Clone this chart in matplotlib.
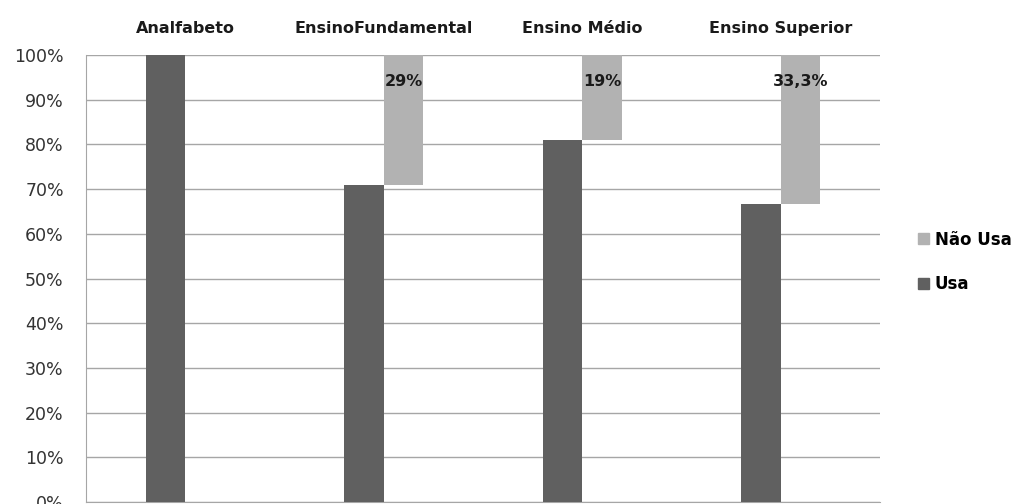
import numpy as np
import matplotlib
matplotlib.use("Agg")
import matplotlib.pyplot as plt
from matplotlib.patches import Patch

plt.rcParams['font.family'] = ['DejaVu Sans']

categorias = ["Analfabeto", "EnsinoFundamental", "Ensino Médio", "Ensino Superior"]
usa = [100, 71, 81, 66.7]
nao_usa = [0, 29, 19, 33.3]
rotulos = ["", "29%", "19%", "33,3%"]

cor_usa = "#606060"
cor_nao = "#b2b2b2"

fig = plt.figure(figsize=(10.19, 5.04), dpi=100)
ax = fig.add_axes([86 / 1019, 2 / 504, (880 - 86) / 1019, (502 - 55) / 504])

x = np.arange(len(categorias))
largura = 0.2

# dark bar left of center, light bar right of center hanging from the top
ax.bar(x - largura / 2, usa, largura, color=cor_usa, zorder=3)
ax.bar(x + largura / 2, nao_usa, largura, bottom=usa, color=cor_nao, zorder=3)

for i, txt in enumerate(rotulos):
    if txt:
        ax.text(x[i] + largura / 2, 94, txt, ha="center", va="center",
                fontsize=11.5, fontweight="bold", color="#1a1a1a", zorder=4)

ax.set_xlim(-0.5, len(categorias) - 0.5)
ax.set_ylim(0, 100)
ax.set_yticks(range(0, 101, 10))
ax.set_yticklabels([f"{v}%" for v in range(0, 101, 10)], fontsize=12.5, color="#333333")
ax.yaxis.grid(True, color="#a6a6a6", linewidth=1, zorder=0)
ax.tick_params(axis="y", length=0, pad=16)

ax.xaxis.tick_top()
ax.set_xticks(x)
ax.set_xticklabels(categorias, fontsize=11.5, fontweight="bold", color="#1a1a1a")
ax.tick_params(axis="x", length=0, pad=14)

for s in ["top", "right"]:
    ax.spines[s].set_visible(False)
ax.spines["left"].set_color("#a6a6a6")
ax.spines["bottom"].set_color("#a6a6a6")

handles = [Patch(color=cor_nao, label="Não Usa"), Patch(color=cor_usa, label="Usa")]
fig.legend(handles=handles, loc="center left", bbox_to_anchor=(910 / 1019, 1 - 262 / 504),
           frameon=False, prop={"weight": "bold", "size": 12}, handlelength=0.65,
           handleheight=0.65, handletextpad=0.35, labelspacing=1.6, borderpad=0)

fig.savefig("out.png", dpi=100)
